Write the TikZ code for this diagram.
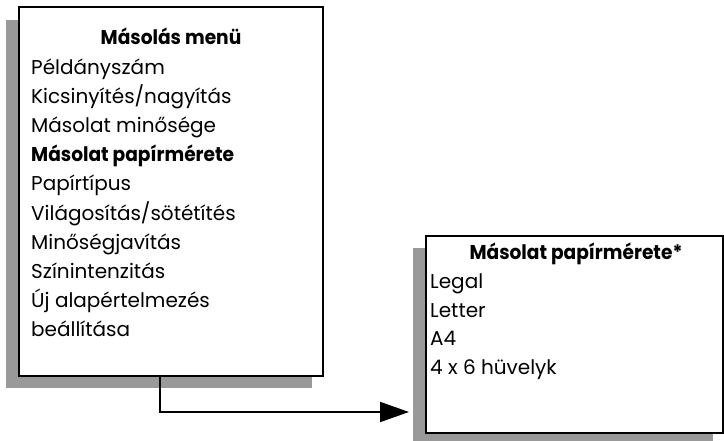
\documentclass[tikz,border=0pt]{standalone}
\usepackage{fontspec}
\setmainfont{Poppins}[BoldFeatures={FakeStretch=0.93}]
\usetikzlibrary{arrows.meta}
\definecolor{shadowgray}{gray}{0.6}
\tikzset{
  frame/.style={draw=black, line width=2pt, fill=white, inner sep=0pt},
  item/.style={anchor=base west, inner sep=0pt, font=\fontsize{20}{24}\selectfont},
  title/.style={anchor=base, inner sep=0pt, font=\fontsize{20}{24}\selectfont\bfseries},
  link/.style={line width=2pt, -{Triangle[length=29pt,width=20pt]}}
}
\begin{document}
\begin{tikzpicture}[x=1pt,y=-1pt]
\useasboundingbox (0,0) rectangle (724,441);
% left box
\fill[shadowgray] (6,20) rectangle (312,388);
\node[frame, minimum width=304pt, minimum height=369pt] (menu) at (171,191.5) {};
\node[title] (menutitle) at (171,45) {Másolás menü};
\foreach \t [count=\i] in {Példányszám, Kicsinyítés/nagyítás, Másolat minősége, {\bfseries Másolat papírmérete}, Papírtípus, Világosítás/sötétítés, Minőségjavítás, Színintenzitás, Új alapértelmezés, beállítása}
  \node[item] (m\i) at (31,{45+29.2*\i}) {\t};
% right box
\fill[shadowgray] (413,248) rectangle (713,441);
\node[frame, minimum width=297pt, minimum height=197pt] (size) at (574.5,334.5) {};
\node[title] (sizetitle) at (576,260) {Másolat papírmérete*};
\foreach \t [count=\i] in {Legal, Letter, A4, 4 x 6 hüvelyk}
  \node[item] (s\i) at (430,{260+28.6*\i}) {\t};
% connector
\coordinate (start) at (160,376);
\coordinate (tip) at (409,412);
\draw[link] (start) |- (tip);
\end{tikzpicture}
\end{document}
